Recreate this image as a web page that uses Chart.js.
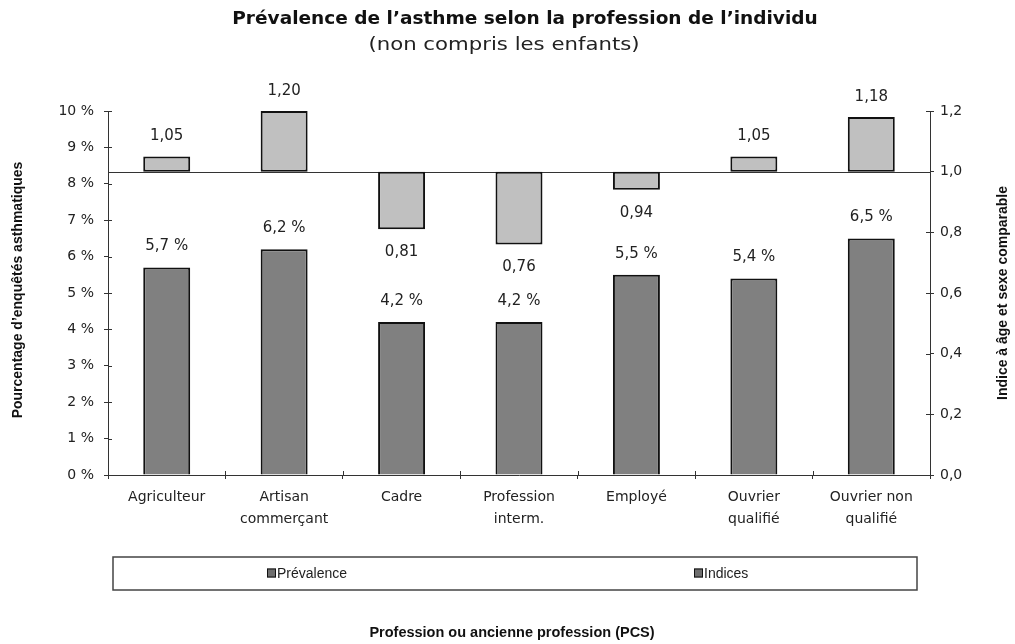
<!DOCTYPE html>
<html><head><meta charset="utf-8">
<script src="https://cdn.jsdelivr.net/npm/chart.js@4.4.1/dist/chart.umd.min.js"></script>
<style>html,body{margin:0;padding:0;background:#fff;}</style>
</head><body>
<canvas id="c" width="1015" height="644"></canvas>
<script>
const categories = [["Agriculteur"], ["Artisan","commerçant"], ["Cadre"], ["Profession","interm."], ["Employé"], ["Ouvrier","qualifié"], ["Ouvrier non","qualifié"]];
const prevalence = [5.7, 6.2, 4.2, 4.2, 5.5, 5.4, 6.5];
const indices = [1.05, 1.20, 0.81, 0.76, 0.94, 1.05, 1.18];
const indexBase = 1.0;
const titleText = "Prévalence de l’asthme selon la profession de l’individu";
const subtitleText = "(non compris les enfants)";
const xTitle = "Profession ou ancienne profession (PCS)";
const yTitle = "Pourcentage d’enquêtés asthmatiques";
const y1Title = "Indice à âge et sexe comparable";
const seriesNames = ["Prévalence", "Indices"];

const FONT = "'Liberation Sans', Arial, sans-serif";
const DV = "'DejaVu Sans', sans-serif";
const fmtPct = v => String(v).replace('.', ',') + ' %';
const fmtIdx = v => v.toFixed(2).replace('.', ',');

function wideText(ctx, text, cx, cy, sx) {
  ctx.save(); ctx.translate(cx, cy); ctx.scale(sx, 1); ctx.fillText(text, 0, 0); ctx.restore();
}

const deco = {
  id: 'deco',
  beforeDatasetsDraw(chart) {
    const {ctx, chartArea: a} = chart;
    const y1 = chart.scales.y1;
    const yy = Math.round(y1.getPixelForValue(indexBase)) + 0.5;
    ctx.save();
    ctx.strokeStyle = '#333'; ctx.lineWidth = 1;
    ctx.beginPath(); ctx.moveTo(a.left, yy); ctx.lineTo(a.right, yy); ctx.stroke();
    const ys = chart.scales.y;
    ys.ticks.forEach(t => { const p = Math.round(ys.getPixelForValue(t.value)) + 0.5; ctx.beginPath(); ctx.moveTo(a.left, p); ctx.lineTo(a.left + 4, p); ctx.stroke(); });
    y1.ticks.forEach(t => { const p = Math.round(y1.getPixelForValue(t.value)) + 0.5; ctx.beginPath(); ctx.moveTo(a.right - 4, p); ctx.lineTo(a.right, p); ctx.stroke(); });
    const xs = chart.scales.x;
    const cw = (a.right - a.left) / categories.length;
    for (let i = 1; i < categories.length; i++) {
      const p = Math.round(xs.getPixelForTick(i) - cw / 2) + 0.5;
      ctx.beginPath(); ctx.moveTo(p, a.bottom - 4); ctx.lineTo(p, a.bottom); ctx.stroke();
    }
    ctx.restore();
  },
  afterDatasetsDraw(chart) {
    const {ctx} = chart;
    const ys = chart.scales.y, y1 = chart.scales.y1;
    ctx.save();
    ctx.fillStyle = '#222';
    ctx.font = "15px " + DV;
    ctx.textAlign = 'center'; ctx.textBaseline = 'middle';
    chart.getDatasetMeta(0).data.forEach((el, i) => {
      ctx.fillText(fmtPct(prevalence[i]), el.x, ys.getPixelForValue(prevalence[i]) - 21);
    });
    chart.getDatasetMeta(1).data.forEach((el, i) => {
      const v = indices[i];
      const p = y1.getPixelForValue(v);
      if (v >= indexBase) ctx.fillText(fmtIdx(v), el.x, p - 20);
      else ctx.fillText(fmtIdx(v), el.x, p + 23);
    });
    ctx.restore();
  },
  afterDraw(chart) {
    const {ctx, chartArea: a} = chart;
    ctx.save();
    ctx.fillStyle = '#111';
    ctx.textAlign = 'center'; ctx.textBaseline = 'middle';
    ctx.font = "bold 17px " + DV;
    wideText(ctx, titleText, 525, 20, 1.09);
    ctx.fillStyle = '#222';
    ctx.font = "18px " + DV;
    wideText(ctx, subtitleText, 504, 45, 1.18);
    ctx.fillStyle = '#111';
    ctx.font = "bold 14.5px " + FONT;
    ctx.fillText(xTitle, 512, 633);
    ctx.font = "bold 14px " + FONT;
    const cy = (a.top + a.bottom) / 2;
    ctx.save(); ctx.translate(18, cy - 3); ctx.rotate(-Math.PI / 2); ctx.fillText(yTitle, 0, 0); ctx.restore();
    ctx.save(); ctx.translate(1003, cy); ctx.rotate(-Math.PI / 2); ctx.fillText(y1Title, 0, 0); ctx.restore();
    // legend
    const lx0 = 113, lx1 = 917, ly0 = 557, ly1 = 590;
    ctx.strokeStyle = '#444'; ctx.lineWidth = 1.5;
    ctx.strokeRect(lx0, ly0, lx1 - lx0, ly1 - ly0);
    const itemX = [267, 694];
    const ly = (ly0 + ly1) / 2;
    ctx.font = "14px " + FONT; ctx.textAlign = 'left';
    chart.data.datasets.forEach((ds, i) => {
      ctx.fillStyle = '#6e6e6e';
      ctx.fillRect(itemX[i], ly - 5, 9, 9);
      ctx.strokeStyle = '#111'; ctx.lineWidth = 1;
      ctx.strokeRect(itemX[i] + 0.5, ly - 4.5, 8, 8);
      ctx.fillStyle = '#222';
      ctx.fillText(ds.label, itemX[i] + 10, ly + 1);
    });
    ctx.restore();
  }
};

new Chart(document.getElementById('c'), {
  type: 'bar',
  data: {
    labels: categories,
    datasets: [
      { label: seriesNames[0], data: prevalence, yAxisID: 'y', backgroundColor: '#808080', borderColor: '#111', borderWidth: 2, order: 2 },
      { label: seriesNames[1], data: indices.map(v => [indexBase, v]), yAxisID: 'y1', backgroundColor: '#c0c0c0', borderColor: '#111', borderWidth: 2, borderSkipped: false, order: 1 }
    ]
  },
  options: {
    responsive: false,
    animation: false,
    layout: { padding: { left: 0, right: 0, top: 111, bottom: 94 } },
    datasets: { bar: { grouped: false, categoryPercentage: 1, barPercentage: 0.4 } },
    plugins: { legend: { display: false }, tooltip: { enabled: false } },
    scales: {
      x: {
        afterFit: s => { s.height = 75; },
        grid: { display: true, drawOnChartArea: false, tickLength: 4, color: '#333', offset: true },
        border: { display: true, color: '#333', width: 1 },
        ticks: { color: '#222', font: { family: DV, size: 14, lineHeight: 1.6 }, padding: 7, maxRotation: 0, autoSkip: false }
      },
      y: {
        position: 'left', min: 0, max: 10,
        afterFit: s => { s.width = 108; },
        grid: { display: true, drawOnChartArea: false, tickLength: 4, color: '#333' },
        border: { display: true, color: '#333', width: 1 },
        ticks: { stepSize: 1, color: '#222', font: { family: DV, size: 14 }, padding: 10, callback: v => v + ' %' }
      },
      y1: {
        position: 'right', min: 0, max: 1.2,
        afterFit: s => { s.width = 85; },
        grid: { display: true, drawOnChartArea: false, tickLength: 4, color: '#333' },
        border: { display: true, color: '#333', width: 1 },
        ticks: { stepSize: 0.2, color: '#222', font: { family: DV, size: 14 }, padding: 6, callback: v => v.toFixed(1).replace('.', ',') }
      }
    }
  },
  plugins: [deco]
});
</script>
</body></html>
